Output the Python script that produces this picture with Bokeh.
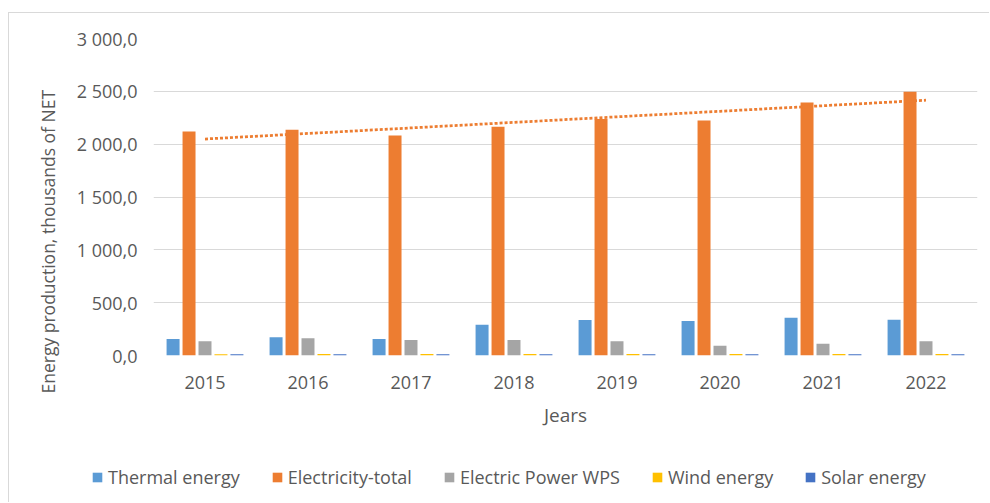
import numpy as np
from bokeh.plotting import figure
from bokeh.models import ColumnDataSource, FixedTicker, Legend, LegendItem, Title
from bokeh.transform import dodge
from bokeh.embed import file_html
from bokeh.resources import INLINE

years = ["2015", "2016", "2017", "2018", "2019", "2020", "2021", "2022"]
thermal = [155, 173, 155, 292, 336, 327, 357, 338]
electricity_total = [2121, 2137, 2083, 2166, 2239, 2223, 2395, 2496]
electric_power_wps = [136, 163, 146, 146, 136, 92, 111, 136]
wind = [13, 14, 14, 15, 15, 14, 15, 14]
solar = [11, 12, 12, 12, 13, 13, 13, 13]

series_names = ["Thermal energy", "Electricity-total", "Electric Power WPS", "Wind energy", "Solar energy"]
series_keys = ["thermal", "elec", "wps", "wind", "solar"]
colors = ["#5B9BD5", "#ED7D31", "#A5A5A5", "#FFC000", "#4472C4"]

y_ticks = [0, 500, 1000, 1500, 2000, 2500, 3000]
y_tick_labels = ["0,0", "500,0", "1 000,0", "1 500,0", "2 000,0", "2 500,0", "3 000,0"]

x_title = "Jears"
y_title = "Energy production, thousands of NET"

FONT = "Open Sans"
TXT = "#595959"
GRID = "#d9d9d9"

# linear trendline of total electricity
xi = np.arange(len(years))
slope, intercept = np.polyfit(xi, electricity_total, 1)
trend = list(intercept + slope * xi)

source = ColumnDataSource(dict(years=years, thermal=thermal, elec=electricity_total,
                               wps=electric_power_wps, wind=wind, solar=solar, trend=trend))

p = figure(x_range=years, y_range=(0, 3000), width=981, height=427,
           output_backend="svg", toolbar_location=None,
           min_border_left=144, min_border_right=13, min_border_top=25, min_border_bottom=85)
p.styles = {"border-left": f"1px solid {GRID}", "border-top": f"1px solid {GRID}",
            "margin-top": "12px", "margin-left": "8px"}
p.outline_line_color = None
p.background_fill_color = "white"
p.border_fill_color = "white"

step = 0.155
bw = 0.126
for i, (k, c) in enumerate(zip(series_keys, colors)):
    p.vbar(x=dodge("years", (i - 2) * step, range=p.x_range), top=k, width=bw,
           source=source, fill_color=c, line_color=None)

p.line(x="years", y="trend", source=source, line_color="#ED7D31", line_width=2.75,
       line_dash="3 2")

p.xgrid.grid_line_color = None
p.ygrid.grid_line_color = GRID
p.ygrid.grid_line_width = 1
p.ygrid.ticker = FixedTicker(ticks=y_ticks)

p.yaxis.ticker = FixedTicker(ticks=y_ticks)
p.yaxis.major_label_overrides = {t: l for t, l in zip(y_ticks, y_tick_labels)}
for ax in (p.xaxis[0], p.yaxis[0]):
    ax.axis_line_color = None
    ax.major_tick_line_color = None
    ax.minor_tick_line_color = None
    ax.major_tick_out = 0
    ax.major_tick_in = 0
    ax.major_label_text_font = FONT
    ax.major_label_text_font_size = "18px"
    ax.major_label_text_color = TXT
p.yaxis.major_label_standoff = 16
p.xaxis.major_label_standoff = 20

p.xaxis.axis_label = x_title
p.xaxis.axis_label_text_font = FONT
p.xaxis.axis_label_text_font_size = "19px"
p.xaxis.axis_label_text_font_style = "normal"
p.xaxis.axis_label_text_color = TXT
p.xaxis.axis_label_standoff = 10

ytitle = Title(text=y_title, align="left", offset=-38, vertical_align="top", standoff=24,
               text_font=FONT, text_font_size="17.5px", text_font_style="normal",
               text_color=TXT)
p.add_layout(ytitle, "left")

# legend strip below the chart (separate root, no frame alignment)
lg = figure(x_range=years, y_range=(-2, -1), width=981, height=63,
            output_backend="svg", toolbar_location=None,
            x_axis_type=None, y_axis_type=None,
            min_border_left=0, min_border_right=0, min_border_top=0, min_border_bottom=0)
lg.styles = {"border-left": f"1px solid {GRID}", "margin-left": "8px"}
lg.outline_line_color = None
lg.grid.visible = False
lg.border_fill_color = "white"
leg_renderers = []
for k, c in zip(series_keys, colors):
    r = lg.vbar(x="years", top=k, width=bw, source=source, fill_color=c, line_color=None)
    r.visible = False
    leg_renderers.append(r)
items = [LegendItem(label=n, renderers=[r]) for n, r in zip(series_names, leg_renderers)]
legend = Legend(items=items, orientation="horizontal", location=(82, 13),
                glyph_width=12, glyph_height=12, label_standoff=5, spacing=31,
                padding=0, margin=0, border_line_color=None, background_fill_alpha=0,
                inactive_fill_alpha=0,
                label_text_font=FONT, label_text_font_size="18px", label_text_color=TXT,
                label_height=20)
lg.add_layout(legend, "center")

open("out.html", "w").write(file_html([p, lg], INLINE))
